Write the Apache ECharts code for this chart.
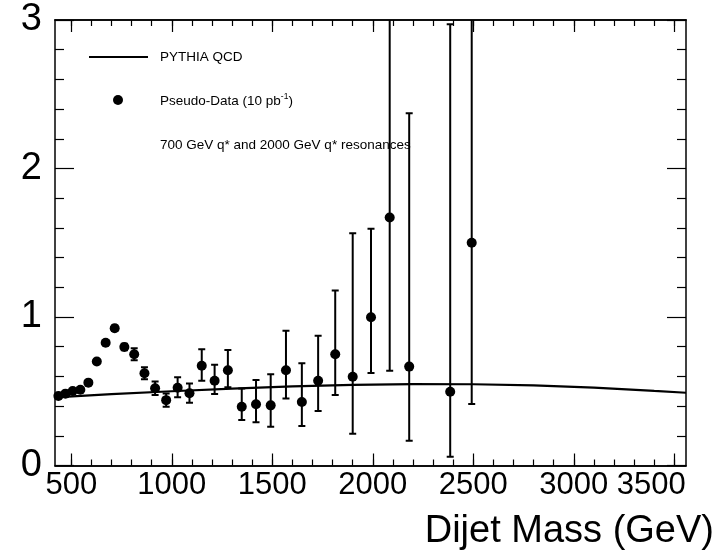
<!DOCTYPE html>
<html>
<head>
<meta charset="utf-8">
<script src="https://cdn.jsdelivr.net/npm/echarts@6/dist/echarts.min.js"></script>
<style>
  html, body { margin: 0; padding: 0; background: #fff; }
  #chart { width: 717px; height: 551px; }
</style>
</head>
<body>
<div id="chart"></div>
<script>
// Bin centres of the dijet mass spectrum (GeV)
const massBins = [436, 471, 507, 545, 585, 627, 671, 716, 764, 813, 864, 917, 972, 1029, 1088,
  1149, 1213, 1279, 1348, 1419, 1492, 1568, 1647, 1728, 1813, 1900, 1991, 2084, 2181, 2385, 2492];
// Pseudo-data values per bin
const pseudoData = [0.468, 0.484, 0.502, 0.510, 0.558, 0.700, 0.827, 0.924, 0.798, 0.749, 0.621,
  0.520, 0.440, 0.524, 0.486, 0.672, 0.571, 0.641, 0.396, 0.412, 0.405, 0.641, 0.428, 0.571,
  0.749, 0.598, 0.998, 1.670, 0.666, 0.497, 1.500];
// Lower and upper ends of the error bars
const errLower = [0.460, 0.476, 0.494, 0.502, 0.550, 0.688, 0.812, 0.906, 0.776, 0.709, 0.581,
  0.475, 0.395, 0.459, 0.423, 0.571, 0.482, 0.527, 0.306, 0.292, 0.261, 0.451, 0.266, 0.367,
  0.474, 0.213, 0.623, 0.638, 0.167, 0.059, 0.414];
const errUpper = [0.476, 0.492, 0.510, 0.518, 0.566, 0.712, 0.842, 0.942, 0.820, 0.789, 0.661,
  0.565, 0.485, 0.594, 0.553, 0.782, 0.679, 0.778, 0.519, 0.576, 0.615, 0.908, 0.688, 0.873,
  1.179, 1.564, 1.595, 3.600, 2.372, 2.971, 3.500];
// PYTHIA QCD prediction
const qcdMass = [419, 700, 1000, 1300, 1600, 1900, 2200, 2500, 2800, 3100, 3400, 3558];
const qcdValue = [0.459, 0.480, 0.500, 0.518, 0.533, 0.543, 0.548, 0.547, 0.540, 0.525, 0.502, 0.490];
// Axis tick values
const xMajorTicks = [500, 1000, 1500, 2000, 2500, 3000, 3500];
const xMinorTicks = [];
for (let m = 500; m <= 3500; m += 100) xMinorTicks.push(m);

const FONT = "'Liberation Sans', Arial, Helvetica, sans-serif";
const X_MIN = 419, X_MAX = 3558;

const chart = echarts.init(document.getElementById('chart'), null, { renderer: 'canvas' });

const frameLine = { show: true, lineStyle: { color: '#000', width: 1.5 } };

function xAxisDef(pos, ticks, len, labels) {
  return {
    type: 'value', position: pos, min: X_MIN, max: X_MAX,
    axisLine: frameLine,
    axisTick: { show: true, inside: true, length: len, customValues: ticks,
      lineStyle: { color: '#000', width: 1.2 } },
    axisLabel: labels ? {
      show: true, customValues: xMajorTicks, fontFamily: FONT, fontSize: 31, color: '#000',
      margin: 4,
      formatter: v => (v === 3500 ? '{s|3500}' : String(v)),
      rich: { s: { fontFamily: FONT, fontSize: 31, color: '#000', padding: [0, 46, 0, 0] } }
    } : { show: false },
    splitLine: { show: false }
  };
}

function yAxisDef(pos, labels) {
  return {
    type: 'value', position: pos, min: 0, max: 3, interval: 1,
    axisLine: frameLine,
    axisTick: { show: true, inside: true, length: 19, lineStyle: { color: '#000', width: 1.2 } },
    minorTick: { show: true, splitNumber: 5, length: 9, lineStyle: { color: '#000', width: 1.2 } },
    axisLabel: labels ? { show: true, fontFamily: FONT, fontSize: 38, color: '#000', margin: 13 }
                      : { show: false },
    splitLine: { show: false }
  };
}

const option = {
  backgroundColor: '#fff',
  animation: false,
  grid: { left: 55, right: 31, top: 20, bottom: 85.5, containLabel: false },
  xAxis: [
    xAxisDef('bottom', xMajorTicks, 12, true),
    xAxisDef('bottom', xMinorTicks, 6, false),
    xAxisDef('top', xMajorTicks, 12, false),
    xAxisDef('top', xMinorTicks, 6, false)
  ],
  yAxis: [yAxisDef('left', true), yAxisDef('right', false)],
  series: [
    {
      name: 'PYTHIA QCD', type: 'line', xAxisIndex: 0, yAxisIndex: 0,
      data: qcdMass.map((m, i) => [m, qcdValue[i]]),
      showSymbol: false, smooth: false,
      lineStyle: { color: '#000', width: 2.2 }
    },
    {
      name: 'errors', type: 'custom', xAxisIndex: 0, yAxisIndex: 0, clip: true,
      data: massBins.map((m, i) => [m, errLower[i], errUpper[i]]),
      encode: { x: 0, y: [1, 2] },
      renderItem: function (params, api) {
        const lo = api.coord([api.value(0), api.value(1)]);
        const hi = api.coord([api.value(0), api.value(2)]);
        const st = { stroke: '#000', lineWidth: 2 };
        const c = 3.5;
        return {
          type: 'group',
          children: [
            { type: 'line', shape: { x1: lo[0], y1: lo[1], x2: hi[0], y2: hi[1] }, style: st },
            { type: 'line', shape: { x1: lo[0] - c, y1: lo[1], x2: lo[0] + c, y2: lo[1] }, style: st },
            { type: 'line', shape: { x1: hi[0] - c, y1: hi[1], x2: hi[0] + c, y2: hi[1] }, style: st }
          ]
        };
      }
    },
    {
      name: 'Pseudo-Data', type: 'scatter', xAxisIndex: 0, yAxisIndex: 0,
      data: massBins.map((m, i) => [m, pseudoData[i]]),
      symbol: 'circle', symbolSize: 10,
      itemStyle: { color: '#000', opacity: 1 }
    }
  ],
  graphic: [
    { type: 'line', shape: { x1: 89, y1: 57, x2: 148, y2: 57 }, style: { stroke: '#000', lineWidth: 2 } },
    { type: 'circle', shape: { cx: 118, cy: 100, r: 5 }, style: { fill: '#000' } },
    { type: 'text', x: 160, y: 57,
      style: { text: 'PYTHIA QCD', font: '13.5px ' + FONT, fill: '#000', textVerticalAlign: 'middle' } },
    { type: 'text', x: 160, y: 101,
      style: {
        text: '{t|Pseudo-Data (10 pb}{sup|-1}{t|)}',
        fill: '#000', textVerticalAlign: 'middle',
        rich: {
          t: { fontFamily: FONT, fontSize: 13.5, color: '#000' },
          sup: { fontFamily: FONT, fontSize: 8.5, color: '#000', verticalAlign: 'top', padding: [0, 0, 8, 0] }
        }
      } },
    { type: 'text', x: 160, y: 145,
      style: { text: '700 GeV q* and 2000 GeV q* resonances', font: '13.5px ' + FONT, fill: '#000',
        textVerticalAlign: 'middle' } },
    { type: 'text', right: 3, top: 513,
      style: { text: 'Dijet Mass (GeV)', font: '38px ' + FONT, fill: '#000' } }
  ]
};

chart.setOption(option);
</script>
</body>
</html>
